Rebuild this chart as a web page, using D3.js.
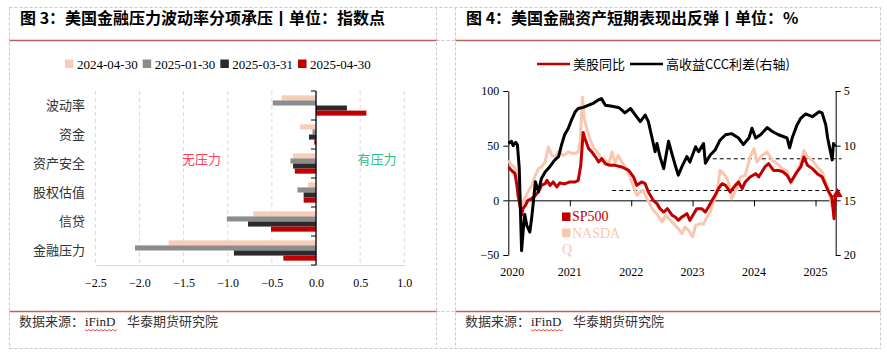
<!DOCTYPE html>
<html>
<head>
<meta charset="utf-8">
<script src="https://cdn.jsdelivr.net/npm/d3@7"></script>
<style>
  body { margin: 0; background: #fff; }
  svg { display: block; font-family: "Noto Sans CJK SC", "Noto Sans", sans-serif; }
  .serif { font-family: "Liberation Serif", "Times New Roman", serif; }
  .axis text { font-family: "Liberation Serif", "Times New Roman", serif; font-size: 12px; fill: #000; }
</style>
</head>
<body>
<svg id="chart" width="887" height="354"></svg>
<script>
//Figure 3 data (index points)
var categories = ["波动率", "资金", "资产安全", "股权估值", "信贷", "金融压力"];
var snapshotDates = ["2024-04-30", "2025-01-30", "2025-03-31", "2025-04-30"];
var value20240430 = [-0.39, -0.18, -0.26, -0.09, -0.71, -1.67];
var value20250130 = [-0.49, -0.04, -0.29, -0.21, -1.01, -2.05];
var value20250331 = [0.35, -0.08, -0.26, -0.14, -0.77, -0.93];
var value20250430 = [0.57, -0.02, -0.24, -0.14, -0.51, -0.37];
var snapshotColors = ["#f8cdb8", "#8c8c8c", "#2b2b2e", "#c00000"];
var xTicksLeft = [-2.5, -2.0, -1.5, -1.0, -0.5, 0.0, 0.5, 1.0];

//Figure 4 data (%)
var spxDates = ["2020-01-02","2020-01-20","2020-02-10","2020-02-21","2020-02-28","2020-03-20","2020-03-28","2020-04-12","2020-04-27","2020-05-19","2020-06-10","2020-06-28","2020-07-16","2020-08-07","2020-08-18","2020-09-05","2020-09-24","2020-10-15","2020-11-03","2020-12-01","2021-01-01","2021-02-02","2021-02-20","2021-03-07","2021-03-21","2021-04-01","2021-04-23","2021-05-12","2021-06-03","2021-06-21","2021-07-09","2021-07-31","2021-08-29","2021-09-27","2021-11-06","2021-12-17","2022-01-15","2022-02-03","2022-03-04","2022-03-25","2022-04-13","2022-05-12","2022-06-03","2022-06-21","2022-07-13","2022-08-04","2022-09-02","2022-09-20","2022-10-08","2022-10-30","2022-11-28","2022-12-16","2023-01-08","2023-01-26","2023-02-24","2023-03-18","2023-04-05","2023-04-27","2023-05-15","2023-06-03","2023-06-25","2023-07-16","2023-08-12","2023-09-12","2023-10-01","2023-10-23","2023-11-10","2023-12-09","2024-01-11","2024-01-30","2024-03-06","2024-03-28","2024-04-26","2024-05-26","2024-06-24","2024-07-16","2024-08-07","2024-09-06","2024-10-05","2024-10-24","2024-11-14","2024-12-13","2025-01-11","2025-02-10","2025-03-03","2025-03-21","2025-04-08","2025-04-21","2025-04-25","2025-04-30"];
var spxYoy = [30.5,27.4,24.4,13.7,4.6,-13.7,-7.6,-4.6,0,1.5,4.6,7.6,13.7,15.2,18.3,13.7,16.8,12.2,16,15,16.8,16.8,18.3,32,62,56.4,47.3,44.2,39.6,35,38.1,33.5,32,32,30.5,27.4,21.3,13.7,16.8,15.2,7.6,0,-3,-7.6,-10.7,-7.6,-13.7,-15.2,-18.3,-15.2,-12.2,-18.3,-12.2,-7.6,-7.6,-10.7,-6.1,0,4.6,10.7,15.2,13.7,7.6,13.7,16.8,10.7,16.8,21.3,24.4,21.5,30.5,33.5,27.4,27.4,25.9,22.9,16.8,24.4,30.5,39.6,32,29,24.4,21.3,13.7,7.6,3,-16.8,-4.6,4];

var ndxDates = ["2020-01-02","2020-01-20","2020-02-10","2020-03-10","2020-03-24","2020-04-08","2020-04-27","2020-05-19","2020-06-10","2020-06-28","2020-07-16","2020-08-07","2020-08-26","2020-09-16","2020-10-04","2020-10-26","2020-11-24","2020-12-23","2021-01-22","2021-02-20","2021-03-03","2021-03-17","2021-03-28","2021-04-12","2021-04-30","2021-05-23","2021-06-10","2021-07-02","2021-07-31","2021-08-18","2021-09-09","2021-09-27","2021-10-15","2021-11-06","2021-12-05","2021-12-24","2022-01-15","2022-02-03","2022-02-24","2022-03-14","2022-04-05","2022-05-05","2022-05-23","2022-06-14","2022-07-02","2022-07-24","2022-08-22","2022-09-20","2022-10-08","2022-10-30","2022-11-17","2022-12-09","2023-01-01","2023-01-19","2023-02-17","2023-03-07","2023-03-28","2023-04-16","2023-05-04","2023-05-26","2023-06-13","2023-07-05","2023-07-24","2023-08-04","2023-08-22","2023-09-24","2023-10-12","2023-11-10","2023-12-09","2024-01-01","2024-01-19","2024-02-17","2024-03-20","2024-04-19","2024-05-19","2024-06-17","2024-07-16","2024-08-07","2024-09-06","2024-10-05","2024-10-24","2024-11-14","2024-12-13","2025-01-11","2025-02-10","2025-03-03","2025-03-25","2025-04-05","2025-04-21","2025-04-30"];
var ndxYoy = [36.6,32,30,4.6,-4.6,1.5,7.6,13.7,22.9,29,30.5,35,48.7,41.1,40,44.2,41.1,44.2,42.7,44.2,53.3,94.4,74.7,65.5,56.4,47.3,45,39.6,36.6,32,44.2,34,41,35,29,21.3,12.2,4.6,7.6,9.1,1.5,-7.6,-10.7,-15.2,-19.8,-13.7,-18.3,-22.9,-25.9,-30.5,-24.4,-27.4,-33.5,-22.9,-21.3,-22,-15.2,-10.7,-1.5,6.1,27.4,24.4,20,15.2,1.5,12.2,21.3,22.9,39.6,47.3,35,41.1,44.2,36.6,33.5,29,27,15.2,24.4,35,45.7,39.6,36.6,30.5,25.9,16.8,7.6,-4.6,4.6,8];

var cccDates = ["2020-01-02","2020-01-20","2020-01-30","2020-02-14","2020-02-24","2020-03-06","2020-03-20","2020-03-31","2020-04-08","2020-04-20","2020-05-08","2020-05-19","2020-05-30","2020-06-10","2020-06-28","2020-07-16","2020-08-07","2020-09-05","2020-10-04","2020-10-26","2020-11-13","2020-12-01","2020-12-23","2021-01-11","2021-02-02","2021-02-20","2021-03-21","2021-04-23","2021-05-23","2021-06-21","2021-07-09","2021-07-31","2021-09-09","2021-10-15","2021-10-27","2021-11-24","2021-12-28","2022-01-26","2022-02-24","2022-03-25","2022-04-13","2022-05-05","2022-05-23","2022-06-03","2022-06-21","2022-07-13","2022-08-11","2022-09-02","2022-09-20","2022-10-08","2022-10-30","2022-11-28","2022-12-16","2023-01-19","2023-02-06","2023-03-07","2023-03-18","2023-04-16","2023-05-15","2023-06-13","2023-07-16","2023-08-22","2023-10-01","2023-10-30","2023-12-02","2023-12-20","2024-01-11","2024-02-09","2024-03-20","2024-04-19","2024-05-26","2024-07-16","2024-07-31","2024-08-15","2024-09-13","2024-10-05","2024-11-03","2024-12-13","2025-01-22","2025-02-09","2025-03-03","2025-03-14","2025-04-10","2025-04-18","2025-04-28"];
var cccSpread = [9.8,9.6,10.0,9.7,9.9,12.0,19.6,17.5,16.3,17.3,17.9,16.6,15.0,13.3,14.2,13.0,12.4,11.9,11.3,11.0,9.9,9.0,8.4,7.65,6.9,6.6,6.5,6.3,6.1,5.8,5.7,6.3,6.4,6.5,6.6,7.0,6.6,7.2,7.8,7.2,7.8,9.3,10.55,9.8,11.0,12.1,9.6,10.85,11.8,12.7,11.9,11.0,11.5,10.1,10.55,9.8,11.6,10.85,10.4,9.5,9.0,8.9,9.3,9.9,9.3,8.4,9.3,9.0,8.35,8.7,9.0,9.3,10.2,9.3,8.1,7.5,7.1,7.35,6.9,7.0,8.1,9.3,11.3,9.8,10.1];

//Reference levels (left axis) and their spans
var refLevels = [38, 9];
var refStarts = ["2023-05-01", "2021-09-10"];
var refEnds = ["2025-06-05", "2025-06-01"];
var yearTicks = [2020, 2021, 2022, 2023, 2024, 2025];

var svg = d3.select("#chart");
var parseDate = d3.timeParse("%Y-%m-%d");

//Frames: dashed cell borders and red rules
var frame = svg.append("g").attr("class", "frame");
var dashStyle = function(sel) { return sel.attr("stroke", "#c8c8c8").attr("stroke-width", 1).attr("stroke-dasharray", "3,2"); };
[[9.5, 7.5, 880.5, 7.5], [9.5, 348.5, 880.5, 348.5], [9.5, 7.5, 9.5, 348.5], [436.5, 7.5, 436.5, 348.5],
 [455.5, 7.5, 455.5, 348.5], [880.5, 7.5, 880.5, 348.5], [436.5, 40.5, 455.5, 40.5], [436.5, 311.5, 455.5, 311.5]]
  .forEach(function(l) {
    frame.append("line").attr("x1", l[0]).attr("y1", l[1]).attr("x2", l[2]).attr("y2", l[3]).call(dashStyle);
  });
[[9.5, 436.5], [455.5, 880.5]].forEach(function(p) {
  [40.5, 311.5].forEach(function(y) {
    frame.append("line").attr("x1", p[0]).attr("x2", p[1]).attr("y1", y).attr("y2", y)
      .attr("stroke", "#c0625c").attr("stroke-width", 1.3);
  });
});

//Titles
svg.append("text").attr("x", 20).attr("y", 24).attr("font-size", 16).attr("font-weight", "bold")
  .text("图 3：美国金融压力波动率分项承压丨单位：指数点");
svg.append("text").attr("x", 466).attr("y", 24).attr("font-size", 16).attr("font-weight", "bold")
  .text("图 4：美国金融资产短期表现出反弹丨单位：%");

//Footers
function footer(x0) {
  var g = svg.append("g").attr("transform", "translate(" + x0 + ",0)");
  g.append("text").attr("x", 0).attr("y", 326).attr("font-size", 13).attr("fill", "#333").text("数据来源：");
  g.append("text").attr("class", "serif").attr("x", 66).attr("y", 326).attr("font-size", 13).attr("fill", "#222").text("iFinD");
  g.append("text").attr("x", 108).attr("y", 326).attr("font-size", 13).attr("fill", "#333").text("华泰期货研究院");
  var wave = "M66,329.5";
  for (var i = 1; i <= 16; i++) wave += " L" + (66 + i * 2) + "," + (i % 2 ? 331 : 329.5);
  g.append("path").attr("d", wave).attr("fill", "none").attr("stroke", "#d22").attr("stroke-width", 0.8);
}
footer(19);
footer(465);

// ================= Figure 3 =================
var seriesLeft = [value20240430, value20250130, value20250331, value20250430];

//Legend
var legendLeft = svg.append("g").attr("class", "legend");
var lx = 65;
snapshotDates.forEach(function(d, i) {
  legendLeft.append("rect").attr("x", lx).attr("y", 59.5).attr("width", 8.5).attr("height", 8.5).attr("fill", snapshotColors[i]);
  var t = legendLeft.append("text").attr("class", "serif").attr("x", lx + 12).attr("y", 68.5)
    .attr("font-size", 13).text(d);
  lx += 12 + t.node().getComputedTextLength() + 5;
});

//Scales
var xLeft = d3.scaleLinear().domain([-2.5, 1.0]).range([95.3, 404.3]);
var yBand = d3.scaleBand().domain(categories).range([91, 265]).paddingInner(0.3).paddingOuter(0.15);
var ySub = d3.scaleBand().domain(snapshotDates).range([0, yBand.bandwidth()]);

//Grid lines
svg.append("g").selectAll("line")
  .data(xTicksLeft.filter(function(d) { return d !== 0; }))
  .enter().append("line")
  .attr("x1", function(d) { return xLeft(d); }).attr("x2", function(d) { return xLeft(d); })
  .attr("y1", 91).attr("y2", 265)
  .attr("stroke", "#d9d9d9").attr("stroke-dasharray", "4,3");

//X axis
var xAxisLeft = d3.axisBottom(xLeft).tickValues(xTicksLeft).tickFormat(d3.format(".1f")).tickSize(0).tickPadding(13);
var gx = svg.append("g").attr("class", "axis").attr("transform", "translate(0,265)").call(xAxisLeft);
gx.select(".domain").attr("stroke", "#d9d9d9");

//Bars
var catGroups = svg.append("g").selectAll("g")
  .data(categories).enter().append("g")
  .attr("transform", function(c) { return "translate(0," + yBand(c) + ")"; });
catGroups.selectAll("rect")
  .data(function(c, ci) { return seriesLeft.map(function(s, si) { return { key: snapshotDates[si], v: s[ci], color: snapshotColors[si] }; }); })
  .enter().append("rect")
  .attr("x", function(d) { return xLeft(Math.min(0, d.v)); })
  .attr("width", function(d) { return Math.abs(xLeft(d.v) - xLeft(0)); })
  .attr("y", function(d) { return ySub(d.key); })
  .attr("height", ySub.bandwidth())
  .attr("fill", function(d) { return d.color; });

//Zero axis with ticks at band edges
var step = yBand.step();
var edge0 = yBand(categories[0]) - yBand.paddingOuter() * step;
svg.append("line").attr("x1", xLeft(0)).attr("x2", xLeft(0)).attr("y1", 91).attr("y2", 265)
  .attr("stroke", "#000").attr("stroke-width", 1.3);
svg.append("g").selectAll("line")
  .data(d3.range(categories.length + 1)).enter().append("line")
  .attr("x1", xLeft(0) - 5).attr("x2", xLeft(0))
  .attr("y1", function(i) { return edge0 + i * step; }).attr("y2", function(i) { return edge0 + i * step; })
  .attr("stroke", "#000");

//Category labels
svg.append("g").selectAll("text")
  .data(categories).enter().append("text")
  .attr("x", 85).attr("y", function(c) { return yBand(c) + yBand.bandwidth() / 2; })
  .attr("dy", "0.35em").attr("text-anchor", "end").attr("font-size", 13).attr("fill", "#333")
  .text(function(c) { return c; });

//Annotations
svg.append("text").attr("x", 201.5).attr("y", 159).attr("dy", "0.35em").attr("text-anchor", "middle")
  .attr("font-size", 13).attr("fill", "#ff3d5a").text("无压力");
svg.append("text").attr("x", 377).attr("y", 159).attr("dy", "0.35em").attr("text-anchor", "middle")
  .attr("font-size", 13).attr("fill", "#2cbf8c").text("有压力");

// ================= Figure 4 =================
var xTime = d3.scaleTime().domain([new Date(2020, 0, 1), new Date(2025, 4, 1)]).range([508.3, 835.7]);
var yLeft = d3.scaleLinear().domain([-50, 100]).range([255, 91]);
var yRight = d3.scaleLinear().domain([5, 20]).range([91, 255]);

function zipSeries(dates, vals) {
  return dates.map(function(d, i) { return { date: parseDate(d), v: vals[i] }; });
}
var spx = zipSeries(spxDates, spxYoy);
var ndx = zipSeries(ndxDates, ndxYoy);
var ccc = zipSeries(cccDates, cccSpread);

//Top legend
var legendRight = svg.append("g");
var rx = 537;
[["美股同比", "#c00000"], ["高收益CCC利差(右轴)", "#000"]].forEach(function(it) {
  legendRight.append("line").attr("x1", rx).attr("x2", rx + 33).attr("y1", 64).attr("y2", 64)
    .attr("stroke", it[1]).attr("stroke-width", 2.5);
  var t = legendRight.append("text").attr("x", rx + 36).attr("y", 68.5).attr("font-size", 13).text(it[0]);
  rx += 36 + t.node().getComputedTextLength() + 5;
});

//Axes
svg.append("g").attr("class", "axis").attr("transform", "translate(508.3,0)")
  .call(d3.axisLeft(yLeft).tickValues([-50, 0, 50, 100]).tickSize(5).tickSizeOuter(0).tickPadding(4))
  .selectAll("line,path").attr("stroke", "#000");
svg.append("g").attr("class", "axis").attr("transform", "translate(835.7,0)")
  .call(d3.axisRight(yRight).tickValues([5, 10, 15, 20]).tickSize(5).tickSizeOuter(0).tickPadding(3))
  .selectAll("line,path").attr("stroke", "#000");
svg.append("g").attr("transform", "translate(0," + yLeft(0) + ")")
  .call(d3.axisBottom(xTime).tickValues(yearTicks.slice(1).map(function(y) { return new Date(y, 0, 1); }))
    .tickSize(6).tickSizeOuter(0).tickFormat(""))
  .selectAll("line,path").attr("stroke", "#000");

//Year labels
svg.append("g").attr("class", "axis").selectAll("text")
  .data(yearTicks).enter().append("text")
  .attr("x", function(y) { return xTime(new Date(y, 0, 1)) + (y === 2020 ? 4 : 0); })
  .attr("y", 276).attr("text-anchor", "middle")
  .text(function(y) { return y; });

//Reference dashed lines
svg.append("g").selectAll("line")
  .data(refLevels).enter().append("line")
  .attr("x1", function(d, i) { return xTime(parseDate(refStarts[i])); })
  .attr("x2", function(d, i) { return xTime(parseDate(refEnds[i])); })
  .attr("y1", function(d) { return yLeft(d); }).attr("y2", function(d) { return yLeft(d); })
  .attr("stroke", "#000").attr("stroke-dasharray", "4,3");

//Lines
var lineLeft = d3.line().x(function(d) { return xTime(d.date); }).y(function(d) { return yLeft(d.v); });
var lineRight = d3.line().x(function(d) { return xTime(d.date); }).y(function(d) { return yRight(d.v); });
svg.append("path").attr("d", lineLeft(ndx)).attr("fill", "none").attr("stroke", "#f9c7b0")
  .attr("stroke-width", 3).attr("stroke-linejoin", "round");
svg.append("path").attr("d", lineLeft(spx)).attr("fill", "none").attr("stroke", "#c00000")
  .attr("stroke-width", 3).attr("stroke-linejoin", "round");
svg.append("path").attr("d", lineRight(ccc)).attr("fill", "none").attr("stroke", "#000")
  .attr("stroke-width", 3).attr("stroke-linejoin", "round");

//End marker of SP500
var lastSpx = spx[spx.length - 1];
svg.append("path").attr("d", d3.symbol().type(d3.symbolTriangle).size(45)())
  .attr("transform", "translate(" + (xTime(lastSpx.date) + 2) + "," + (yLeft(lastSpx.v) - 2) + ")")
  .attr("fill", "#c00000");

//Inner legend
var innerLegend = svg.append("g");
innerLegend.append("rect").attr("x", 562).attr("y", 212.5).attr("width", 8.5).attr("height", 8.5).attr("fill", "#c00000");
innerLegend.append("text").attr("class", "serif").attr("x", 572).attr("y", 221).attr("font-size", 14)
  .attr("fill", "#c00000").text("SP500");
innerLegend.append("rect").attr("x", 562).attr("y", 228.5).attr("width", 8.5).attr("height", 8.5).attr("fill", "#f9c7b0");
innerLegend.append("text").attr("class", "serif").attr("x", 572).attr("y", 237.5).attr("font-size", 14)
  .attr("fill", "#f9c7b0").text("NASDA");
innerLegend.append("text").attr("class", "serif").attr("x", 562).attr("y", 253.5).attr("font-size", 14)
  .attr("fill", "#f9c7b0").text("Q");
</script>
</body>
</html>
